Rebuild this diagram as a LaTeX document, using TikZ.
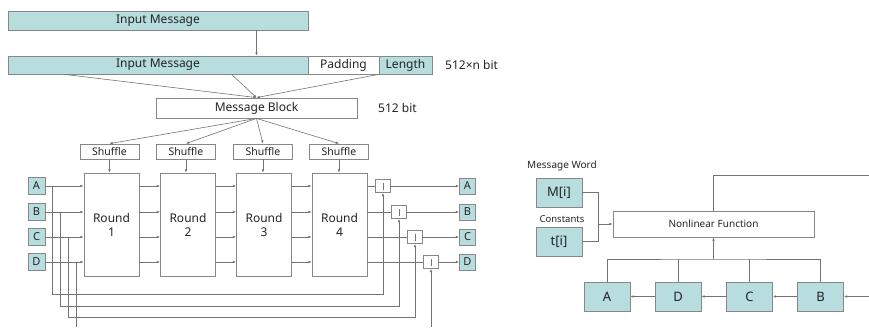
\documentclass[tikz,border=0pt]{standalone}
\usepackage{fontspec}
\setmainfont{Noto Sans}
\usetikzlibrary{arrows.meta,positioning,calc}
\definecolor{mdteal}{RGB}{183,221,223}
\definecolor{mdline}{RGB}{115,115,115}
\definecolor{mdedge}{RGB}{135,135,135}
\definecolor{mdtext}{RGB}{35,35,35}
\tikzset{
  md box/.style={
    draw=mdedge,
    line width=0.8pt,
    inner sep=0pt,
    align=center,
    text=mdtext,
    font=\fontsize{10.5}{12}\selectfont,
  },
  md teal/.style={md box, fill=mdteal},
  md big/.style={font=\fontsize{12}{14}\selectfont},
  md arrow/.style={
    -{Latex[length=3.2pt,width=2.6pt]},
    line width=0.6pt,
    draw=mdline,
  },
  md line/.style={line width=0.6pt, draw=mdline},
  md label/.style={inner sep=0pt, text=mdtext, font=\fontsize{10}{11}\selectfont},
}

\begin{document}
\begin{tikzpicture}[x=1pt,y=-1pt]
  \useasboundingbox (0,0) rectangle (869,327);

  % Message padding
  \node[md teal, md big, minimum width=300pt, minimum height=19pt] (topmsg) at (158,20.5) {Input Message};
  \node[md teal, md big, minimum width=300pt, minimum height=18pt] (msg) at (158,65) {Input Message};
  \node[md box, md big, minimum width=71pt, minimum height=18pt] (pad) at (343.5,65) {Padding};
  \node[md teal, md big, minimum width=53pt, minimum height=18pt] (len) at (405.5,65) {Length};
  \node[md label, anchor=west, font=\fontsize{12}{13}\selectfont] (nbits) at (445,65) {512×n bit};
  \node[md box, md big, minimum width=201pt, minimum height=20pt] (blk) at (256.5,108) {Message Block};
  \node[md label, anchor=west, font=\fontsize{12}{13}\selectfont] (blkbits) at (378,108) {512 bit};

  \draw[md arrow] (topmsg.south -| blk.north) -- (blk.north |- msg.north);
  \draw[md arrow] ($(msg.south west)+(57,0)$) -- (blk.north);
  \draw[md arrow] ($(msg.south west)+(224,0)$) -- (blk.north);
  \draw[md arrow] (len.south west) -- (blk.north);

  % Shuffles and rounds
  \foreach \n/\x/\rx in {1/109.5/111.5,2/186/188,3/263/264,4/339/339.5}{
    \node[md box, minimum width=59pt, minimum height=15pt] (sh\n) at (\x,151.5) {Shuffle};
    \node[md box, md big, minimum width=55pt, minimum height=103pt] (r\n) at (\rx,224.5) {Round\\\n};
    \draw[md arrow] (blk.south) -- (sh\n.north);
    \draw[md arrow] (sh\n.south) -- (sh\n.south |- r\n.north);
  }

  % Chaining variables
  \foreach \s/\y/\ax/\bx in {A/186/383/52,B/212/399/60,C/237/415/68,D/262/431/76}{
    \node[md teal, font=\fontsize{11}{12}\selectfont, minimum size=17pt] (in\s) at (36.5,\y) {\s};
    \node[md teal, font=\fontsize{11}{12}\selectfont, minimum size=16pt] (out\s) at (467.5,\y) {\s};
    \node[md box, minimum width=15pt, minimum height=13pt,
      path picture={\draw[mdline, line width=0.6pt] ([yshift=-3.5pt]path picture bounding box.center) -- ++(0,7pt);}] (add\s) at (\ax,\y) {};
    \coordinate (br\s) at (\bx,\y);
    \draw[md arrow] (in\s) -- (r1.west |- in\s);
    \draw[md arrow] (r1.east |- in\s) -- (r2.west |- in\s);
    \draw[md arrow] (r2.east |- in\s) -- (r3.west |- in\s);
    \draw[md arrow] (r3.east |- in\s) -- (r4.west |- in\s);
    \draw[md line] (r4.east |- in\s) -- (add\s);
    \draw[md arrow] (add\s) -- (out\s);
  }
  \foreach \s/\bx/\ry in {A/52/294,B/60/306,C/68/317}{
    \coordinate (ret\s) at (\bx,\ry);
    \draw[md arrow] (br\s) -- (ret\s) -| (add\s.south);
  }
  \coordinate (retD) at (76,327);
  \coordinate (feedD) at (431,327);
  \draw[md line] (brD) -- (retD);
  \draw[md arrow] (feedD) -- (addD.south);

  % Step function
  \node[md label] (mwlbl) at (562,166) {Message Word};
  \node[md teal, font=\fontsize{13}{15}\selectfont, minimum width=46pt, minimum height=29pt] (mi) at (559,192.5) {M[i]};
  \node[md label, font=\fontsize{9.5}{11}\selectfont] (ctlbl) at (562,219) {Constants};
  \node[md teal, font=\fontsize{13}{15}\selectfont, minimum width=46pt, minimum height=29pt] (ti) at (559,241.5) {t[i]};
  \node[md box, minimum width=201pt, minimum height=26pt, font=\fontsize{10}{11}\selectfont] (nlf) at (713.5,224) {Nonlinear Function};
  \coordinate (join) at (598,224);
  \draw[md line] (mi.east) -| (join) |- (ti.east);
  \draw[md arrow] (join) -- (nlf.west);
  \coordinate (topexit) at (869,175);
  \draw[md line] (nlf.north) |- (topexit);

  \foreach \s/\x in {A/607,D/678,C/749.5,B/820.5}{
    \node[md teal, font=\fontsize{13}{15}\selectfont, minimum width=46pt, minimum height=29pt] (st\s) at (\x,296.5) {\s};
  }
  \coordinate (bus) at (713.5,259);
  \draw[md arrow] (bus) -- (nlf.south);
  \draw[md line] (stA.north) |- (bus) -| (stB.north);
  \draw[md line] (stD.north) -- (stD.north |- bus);
  \draw[md line] (stC.north) -- (stC.north |- bus);
  \coordinate (entry) at (869,296.5);
  \draw[md arrow] (entry) -- (stB);
  \draw[md arrow] (stB) -- (stC);
  \draw[md arrow] (stC) -- (stD);
  \draw[md arrow] (stD) -- (stA);
\end{tikzpicture}
\end{document}
